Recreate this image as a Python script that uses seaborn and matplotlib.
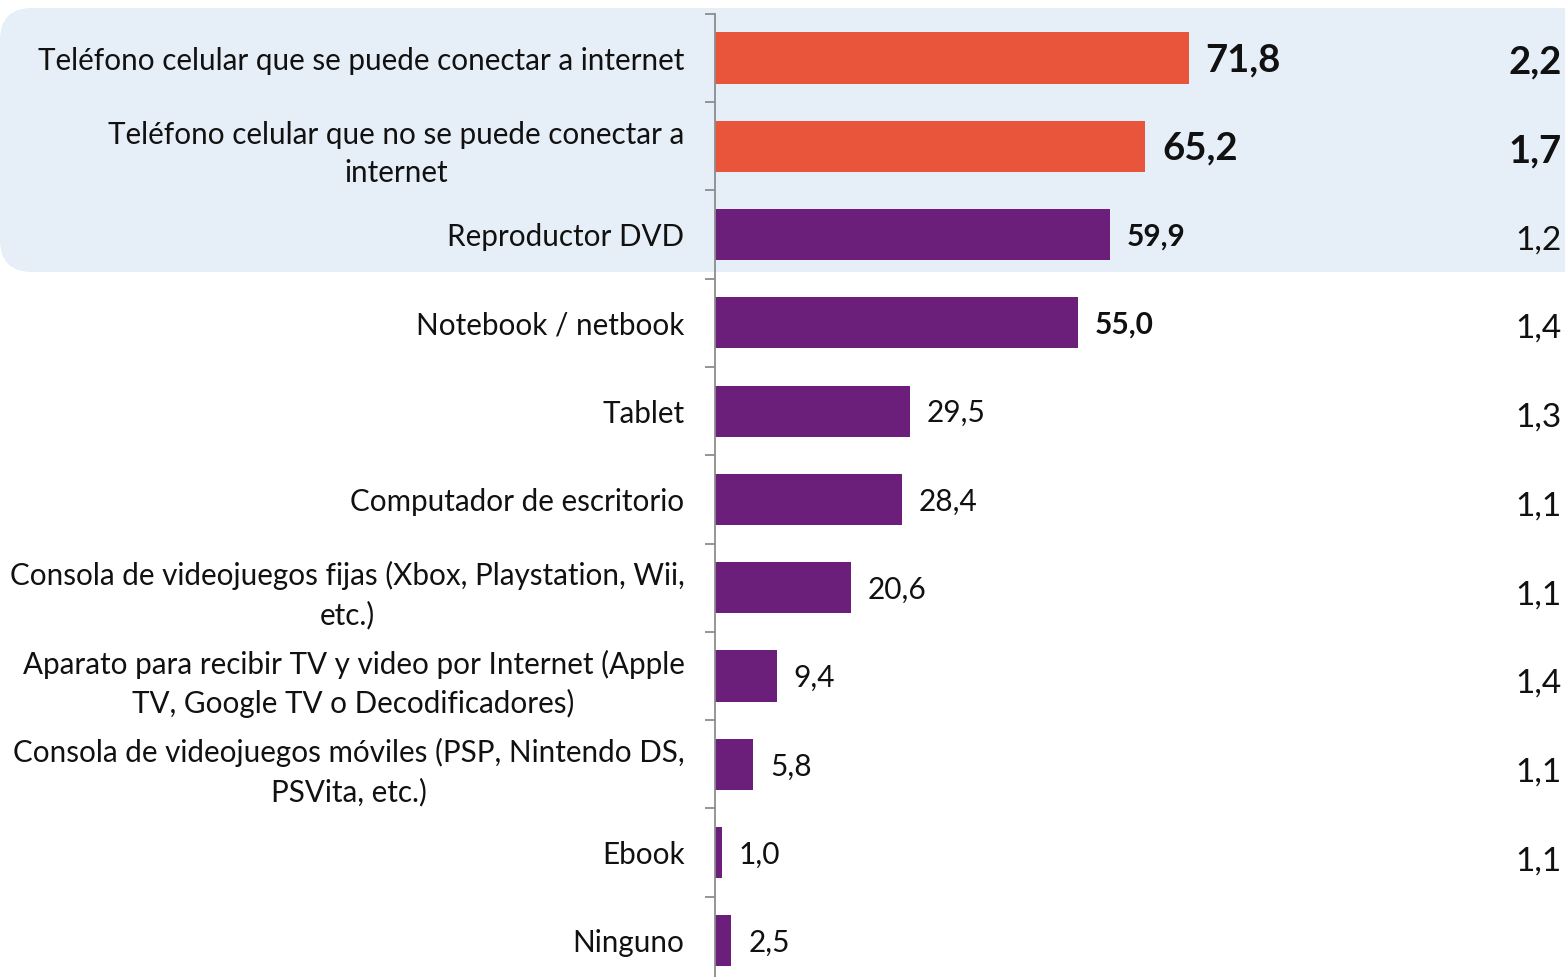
import matplotlib
matplotlib.use("Agg")
import matplotlib.pyplot as plt
import seaborn as sns
import pandas as pd
from matplotlib.patches import FancyBboxPatch
from matplotlib.transforms import blended_transform_factory

categories = [
    "Teléfono celular que se puede conectar a internet",
    "Teléfono celular que no se puede conectar a\ninternet",
    "Reproductor DVD",
    "Notebook / netbook",
    "Tablet",
    "Computador de escritorio",
    "Consola de videojuegos fijas (Xbox, Playstation, Wii,\netc.)",
    "Aparato para recibir TV y video por Internet (Apple\nTV, Google TV o Decodificadores)",
    "Consola de videojuegos móviles (PSP, Nintendo DS,\nPSVita, etc.)",
    "Ebook",
    "Ninguno",
]
values = [71.8, 65.2, 59.9, 55.0, 29.5, 28.4, 20.6, 9.4, 5.8, 1.0, 2.5]
groups = ["telefono", "telefono", "otro", "otro", "otro", "otro", "otro", "otro", "otro", "otro", "otro"]
right_values = ["2,2", "1,7", "1,2", "1,4", "1,3", "1,1", "1,1", "1,4", "1,1", "1,1", ""]

palette = {"telefono": "#E8553A", "otro": "#6B1F7A"}

sns.set_theme(style="white")
plt.rcParams["font.family"] = ["Lato", "DejaVu Sans"]

df = pd.DataFrame({"cat": categories, "val": values, "grp": groups})

fig = plt.figure(figsize=(15.65, 9.77), dpi=100)

# highlighted background band
bg = FancyBboxPatch((0.0, 7.05), 16.5, 2.64,
                    boxstyle="round,pad=0,rounding_size=0.32",
                    transform=fig.dpi_scale_trans, facecolor="#E6EEF8",
                    edgecolor="none", zorder=0)
fig.add_artist(bg)

ax = fig.add_axes([715 / 1565, -0.0082, 850 / 1565, 0.994])
ax.set_facecolor("none")
sns.barplot(data=df, y="cat", x="val", hue="grp", palette=palette,
            orient="h", width=0.58, dodge=False, legend=False, ax=ax,
            saturation=1, edgecolor="none", linewidth=0)

ax.set_xlim(0, 128.8)
ax.set_ylim(10.5, -0.5)
ax.set_xlabel("")
ax.set_ylabel("")
ax.set_xticks([])
for s in ["top", "right", "bottom"]:
    ax.spines[s].set_visible(False)
ax.spines["left"].set_color("#8C8C8C")
ax.spines["left"].set_linewidth(1.3)

ax.set_yticks(range(len(categories)))
ax.set_yticklabels(categories, fontsize=21.3, color="#111111",
                   multialignment="center", linespacing=1.45)
ax.tick_params(axis="y", which="major", length=0, pad=22)
ax.set_yticks([i - 0.5 for i in range(len(categories))], minor=True)
ax.tick_params(axis="y", which="minor", length=7, width=1.3, color="#8C8C8C", left=True)

# value labels
for i, v in enumerate(values):
    lbl = f"{v:.1f}".replace(".", ",")
    if i < 2:
        fs, fw = 27.5, "bold"
    elif i < 4:
        fs, fw = 21.5, "bold"
    else:
        fs, fw = 21.5, "normal"
    ax.annotate(lbl, xy=(v, i), xytext=(12, -1.5), textcoords="offset points",
                ha="left", va="center", fontsize=fs, fontweight=fw, color="#111111")

# right column
trans = blended_transform_factory(fig.transFigure, ax.transData)
for i, rv in enumerate(right_values):
    if not rv:
        continue
    if i < 2:
        fs, fw = 27.5, "bold"
    else:
        fs, fw = 24, "normal"
    ax.annotate(rv, xy=(0.998, i), xycoords=trans, xytext=(0, -3.5 - 0.3 * i),
                textcoords="offset points", ha="right", va="center",
                fontsize=fs, fontweight=fw, color="#111111", annotation_clip=False)

fig.savefig("out.png", dpi=100)
